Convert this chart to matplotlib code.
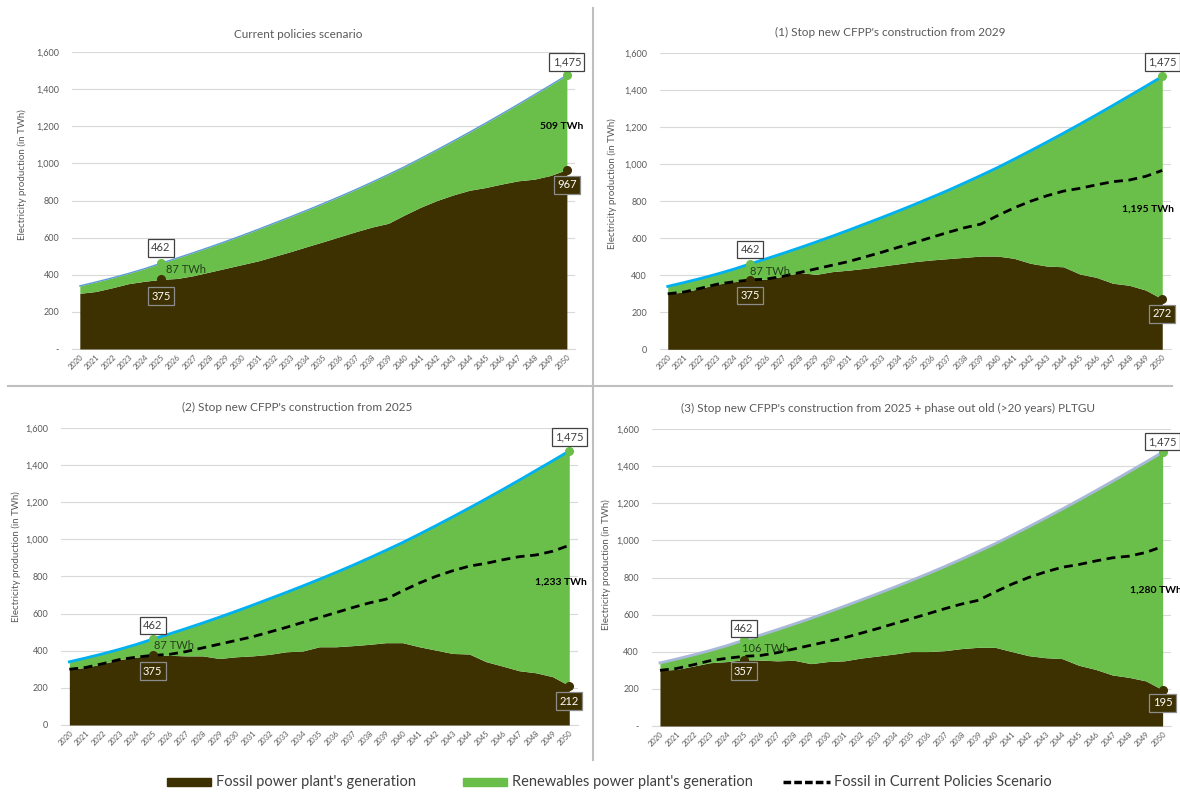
import matplotlib.pyplot as plt
from matplotlib.lines import Line2D
from matplotlib.patches import Rectangle
from matplotlib.ticker import FuncFormatter

plt.rcParams["font.family"] = ["Lato", "DejaVu Sans"]

W, H = 1180, 792

years = list(range(2020, 2051))

total_generation = [
    340, 361, 383, 407, 433, 462, 490, 519, 549, 580, 612,
    645, 679, 713, 748, 784, 821, 859, 899, 940, 982,
    1027, 1073, 1120, 1168, 1217, 1267, 1318, 1370, 1422, 1475,
]
fossil_current = [
    300, 310, 330, 352, 365, 375, 380, 395, 415, 435, 455,
    475, 500, 525, 552, 578, 605, 632, 657, 677, 722,
    764, 800, 830, 855, 870, 889, 906, 915, 935, 967,
]
fossil_stop_2029 = [
    300, 310, 330, 352, 365, 375, 380, 395, 415, 405, 420,
    428, 438, 450, 462, 474, 483, 490, 497, 504, 504,
    492, 465, 450, 446, 407, 389, 357, 346, 320, 272,
]
fossil_stop_2025 = [
    300, 310, 330, 352, 365, 375, 375, 372, 372, 358, 367,
    372, 380, 394, 398, 421, 421, 427, 434, 443, 443,
    421, 403, 385, 382, 341, 317, 292, 281, 260, 212,
]
fossil_stop_2025_pltgu = [
    300, 305, 323, 341, 347, 357, 355, 351, 354, 336, 347,
    351, 366, 377, 388, 401, 401, 406, 417, 424, 424,
    401, 379, 368, 363, 327, 305, 275, 262, 243, 195,
]

panel_titles = [
    "Current policies scenario",
    "(1) Stop new CFPP's construction from 2029",
    "(2) Stop new CFPP's construction from 2025",
    "(3) Stop new CFPP's construction from 2025 + phase out old (>20 years) PLTGU",
]
gap_2025_labels = ["87 TWh", "87 TWh", "87 TWh", "106 TWh"]
gap_2050_labels = ["509 TWh", "1,195 TWh", "1,233 TWh", "1,280 TWh"]
zero_labels = ["-", "0", "0", "-"]

FOSSIL = "#3d3102"
GREEN = "#6abf4b"
GREY_TEXT = "#595959"
GRID = "#d9d9d9"

# panel boxes in pixels (left, top, right, bottom) + styling
panels = [
    dict(box=(71.7, 52, 575, 349), fossil=fossil_current, line="#5b9bd5", lw=1.0,
         dashed=False, up25=83, dn25=90, up50=72, dn50=83, gap_y=1197, gap_x=2051.0,
         gap25=(2025.3, 426), title_xy=(298, 35), ylab_xy=(22, 175)),
    dict(box=(659.5, 53.3, 1170.5, 349.3), fossil=fossil_stop_2029, line="#00b0f0", lw=2.0,
         dashed=True, up25=77, dn25=85, up50=79, dn50=81, gap_y=757, gap_x=2050.7,
         gap25=(2025.0, 419), title_xy=(890, 32), ylab_xy=(612, 184)),
    dict(box=(61, 427.7, 577.6, 725), fossil=fossil_stop_2025, line="#00b0f0", lw=2.0,
         dashed=True, up25=73, dn25=86, up50=76, dn50=83, gap_y=771, gap_x=2051.06,
         gap25=(2025.1, 430), title_xy=(297, 407), ylab_xy=(16, 557)),
    dict(box=(651.6, 429, 1171, 726), fossil=fossil_stop_2025_pltgu, line="#a8b8d8", lw=2.0,
         dashed=True, up25=64, dn25=62, up50=57, dn50=71, gap_y=733, gap_x=2051.15,
         gap25=(2024.9, 419), title_xy=(888, 408), ylab_xy=(606, 565)),
]


def px_rect(box):
    l, t, r, b = box
    return [l / W, 1 - b / H, (r - l) / W, (b - t) / H]


def white_box(ax, x, y, text):
    ax.text(x, y, text, ha="center", va="center", fontsize=8, color="#404040",
            bbox=dict(boxstyle="square,pad=0.3", fc="white", ec="#404040", lw=0.9),
            zorder=6, clip_on=False)


def dark_box(ax, x, y, text):
    ax.text(x, y, text, ha="center", va="center", fontsize=8, color="white",
            bbox=dict(boxstyle="square,pad=0.3", fc=FOSSIL, ec="#8c8c8c", lw=0.9),
            zorder=6, clip_on=False)


def draw_panel(fig, i, cfg):
    ax = fig.add_axes(px_rect(cfg["box"]))
    fossil = cfg["fossil"]

    ax.fill_between(years, 0, fossil, color=FOSSIL, lw=0, zorder=2)
    ax.fill_between(years, fossil, total_generation, color=GREEN, lw=0, zorder=2)
    ax.plot(years, total_generation, color=cfg["line"], lw=cfg["lw"], zorder=3)
    if cfg["dashed"]:
        ax.plot(years, fossil_current, color="black", lw=2.0, ls=(0, (3.2, 2)), zorder=4)

    i25 = years.index(2025)
    ax.plot(2025, total_generation[i25], "o", color=GREEN, ms=5.5, zorder=5)
    ax.plot(2025, fossil[i25], "o", color=FOSSIL, ms=5.5, zorder=5)
    ax.plot(2050, total_generation[-1], "o", color=GREEN, ms=5.5, zorder=5)
    ax.plot(2050, fossil[-1], "o", color=FOSSIL, ms=5.5, zorder=5)

    white_box(ax, 2025, total_generation[i25] + cfg["up25"], f"{total_generation[i25]:,}")
    dark_box(ax, 2025, fossil[i25] - cfg["dn25"], f"{fossil[i25]:,}")
    white_box(ax, 2050, total_generation[-1] + cfg["up50"], f"{total_generation[-1]:,}")
    dark_box(ax, 2050, fossil[-1] - cfg["dn50"], f"{fossil[-1]:,}")

    gx, gy = cfg["gap25"]
    ax.text(gx, gy, gap_2025_labels[i], ha="left", va="center", fontsize=8,
            color="#24401a", zorder=6)
    ax.text(cfg["gap_x"], cfg["gap_y"], gap_2050_labels[i], ha="right", va="center",
            fontsize=7.5, fontweight="bold", color="black", zorder=6, clip_on=False)

    ax.set_xlim(2019.5, 2050.5)
    ax.set_ylim(0, 1600)
    ax.set_yticks(range(0, 1601, 200))
    zero = zero_labels[i]
    ax.yaxis.set_major_formatter(FuncFormatter(lambda v, p: zero if v == 0 else f"{int(v):,}"))
    ax.set_xticks(years)
    ax.set_xticklabels([str(y) for y in years], rotation=45, ha="right",
                       rotation_mode="anchor")
    ax.tick_params(axis="x", length=0, pad=3, labelsize=5.5, labelcolor=GREY_TEXT)
    ax.tick_params(axis="y", length=0, pad=9, labelsize=6.5, labelcolor=GREY_TEXT)
    ax.grid(axis="y", color=GRID, lw=0.8, zorder=0)
    ax.set_axisbelow(True)
    for side in ["top", "right", "left"]:
        ax.spines[side].set_visible(False)
    ax.spines["bottom"].set_color(GRID)
    ax.spines["bottom"].set_zorder(1)

    tx, ty = cfg["title_xy"]
    fig.text(tx / W, 1 - ty / H, panel_titles[i], ha="center", va="center",
             fontsize=8.5, color=GREY_TEXT)
    lx, ly = cfg["ylab_xy"]
    fig.text(lx / W, 1 - ly / H, "Electricity production (in TWh)", ha="center",
             va="center", rotation=90, fontsize=7, color=GREY_TEXT)


def draw_legend(fig):
    y = 1 - 782 / H
    h = 8 / H
    fig.add_artist(Rectangle((167 / W, y - h / 2), 44 / W, h, color=FOSSIL,
                             transform=fig.transFigure))
    fig.text(216 / W, y, "Fossil power plant's generation", ha="left", va="center",
             fontsize=10.5, color="#404040")
    fig.add_artist(Rectangle((463 / W, y - h / 2), 44 / W, h, color=GREEN,
                             transform=fig.transFigure))
    fig.text(512 / W, y, "Renewables power plant's generation", ha="left", va="center",
             fontsize=10.5, color="#404040")
    fig.add_artist(Line2D([783 / W, 830 / W], [y, y], color="black", lw=2.5,
                          ls=(0, (2.2, 0.9)), transform=fig.transFigure))
    fig.text(834 / W, y, "Fossil in Current Policies Scenario", ha="left", va="center",
             fontsize=10.5, color="#404040")


def main():
    fig = plt.figure(figsize=(W / 100, H / 100), dpi=100)
    fig.patch.set_facecolor("white")

    for i, cfg in enumerate(panels):
        draw_panel(fig, i, cfg)

    # separators between the four panels
    fig.add_artist(Line2D([593 / W, 593 / W], [1 - 8 / H, 1 - 760 / H], color="#bfbfbf",
                          lw=1.5, transform=fig.transFigure))
    fig.add_artist(Line2D([8 / W, 1172 / W], [1 - 386 / H, 1 - 386 / H], color="#bfbfbf",
                          lw=1.5, transform=fig.transFigure))

    draw_legend(fig)
    fig.savefig("out.png", dpi=100)
    plt.close(fig)


if __name__ == "__main__":
    main()
